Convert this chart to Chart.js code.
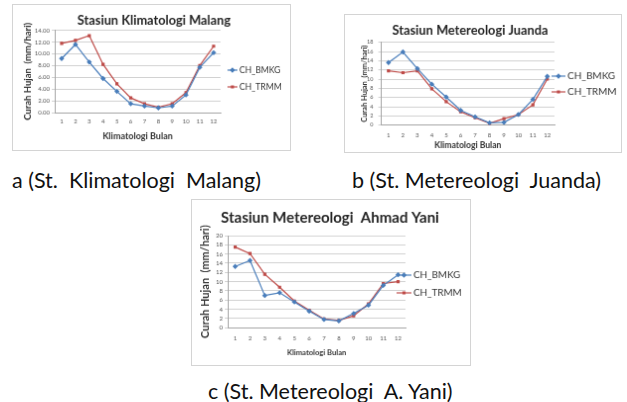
<!DOCTYPE html>
<html><head><meta charset="utf-8">
<script src="https://cdn.jsdelivr.net/npm/chart.js@4.4.0/dist/chart.umd.min.js"></script>
<style>
html,body{margin:0;padding:0;background:#fff;width:627px;height:402px;overflow:hidden;}
canvas{position:absolute;border:1px solid #d4d4d4;}
.cap{position:absolute;font-family:Lato,"Open Sans",sans-serif;font-size:21.5px;color:#111;white-space:pre;line-height:24px;}
</style></head><body>
<canvas id="ca" width="279" height="147" style="left:12px;top:4px;width:279px;height:147px"></canvas>
<canvas id="cb" width="278" height="139" style="left:344px;top:14px;width:278px;height:139px"></canvas>
<canvas id="cc" width="280" height="167" style="left:191px;top:199px;width:280px;height:167px"></canvas>
<div class="cap" style="left:12px;top:168px">a (St.  Klimatologi  Malang)</div>
<div class="cap" style="left:352px;top:168px">b (St. Metereologi  Juanda)</div>
<div class="cap" style="left:208px;top:379px">c (St. Metereologi  A. Yani)</div>
<script>
// ---- data ----
const months = ['1','2','3','4','5','6','7','8','9','10','11','12'];
const seriesNames = ['CH_BMKG','CH_TRMM'];
const malangBMKG = [9.2, 11.6, 8.6, 5.8, 3.6, 1.5, 1.1, 0.8, 1.1, 3.0, 7.7, 10.2];
const malangTRMM = [11.8, 12.3, 13.1, 8.2, 4.9, 2.5, 1.5, 0.9, 1.5, 3.4, 8.0, 11.3];
const juandaBMKG = [13.6, 15.9, 12.3, 8.9, 6.1, 3.2, 1.8, 0.5, 0.6, 2.3, 5.6, 10.6];
const juandaTRMM = [11.8, 11.4, 11.8, 7.9, 5.1, 2.9, 1.6, 0.4, 1.4, 2.3, 4.4, 10.0];
const yaniBMKG = [13.3, 14.6, 7.0, 7.6, 5.6, 3.6, 1.8, 1.5, 3.1, 4.9, 9.2, 11.5];
const yaniTRMM = [17.5, 16.1, 11.6, 8.8, 5.8, 3.8, 1.9, 1.6, 2.6, 5.2, 9.6, 10.0];
const titles = ['Stasiun Klimatologi Malang','Stasiun Metereologi Juanda','Stasiun Metereologi  Ahmad Yani'];
const xTitle = 'Klimatologi Bulan';
const yTitle = 'Curah Hujan  (mm/hari)';
const yMax = [14, 18, 20];
const yStep = 2;

// ---- style ----
const BLUE = '#4a7ebb', RED = '#be4b48', GRID = '#d2d2d2', AXIS = '#a6a6a6', TXT = '#555';
Chart.defaults.font.family = 'Lato, "Open Sans", sans-serif';

const frameText = {
  id: 'frameText',
  afterDraw(chart, args, o) {
    const ctx = chart.ctx;
    ctx.save();
    ctx.fillStyle = '#262626';
    ctx.font = 'bold ' + o.titleSize + 'px Lato, sans-serif';
    ctx.textAlign = 'center'; ctx.textBaseline = 'middle';
    ctx.fillText(o.title, o.titleX, o.titleY);
    chart.data.datasets.forEach((ds, i) => {
      const y = o.legY[i];
      ctx.strokeStyle = ds.borderColor; ctx.lineWidth = 1.2;
      ctx.beginPath(); ctx.moveTo(o.legX0, y); ctx.lineTo(o.legX1, y); ctx.stroke();
      Chart.helpers.drawPoint(ctx, {pointStyle: ds.pointStyle, radius: ds.pointRadius, rotation: 0, borderWidth: 1}, (o.legX0 + o.legX1) / 2, y);
      ctx.fillStyle = ds.borderColor; ctx.fill();
      ctx.fillStyle = '#333';
      ctx.font = o.legSize + 'px Lato, sans-serif';
      ctx.textAlign = 'left';
      ctx.fillText(ds.label, o.legX1 + 2, y);
    });
    ctx.restore();
  }
};

function makeChart(id, bmkg, trmm, max, L, fmt) {
  new Chart(document.getElementById(id), {
    type: 'line',
    data: {
      labels: months,
      datasets: [
        {label: seriesNames[0], data: bmkg, borderColor: BLUE, backgroundColor: BLUE, pointStyle: 'rectRot', pointRadius: 1.8, borderWidth: 1.2, tension: 0},
        {label: seriesNames[1], data: trmm, borderColor: RED, backgroundColor: RED, pointStyle: 'rect', pointRadius: 1.4, borderWidth: 1.2, tension: 0}
      ]
    },
    options: {
      responsive: false, animation: false, devicePixelRatio: 1,
      layout: {padding: L.pad},
      plugins: {legend: {display: false}, tooltip: {enabled: false}, title: {display: false}, frameText: L.text},
      scales: {
        x: {
          type: 'category', offset: true,
          grid: {display: false, drawTicks: false},
          border: {display: true, color: AXIS, width: 1},
          ticks: {font: {size: L.xtk}, color: TXT, padding: L.xPad, maxRotation: 0, autoSkip: false},
          title: {display: true, text: xTitle, font: {size: L.xtSize, weight: 'bold'}, color: '#333', padding: 0},
          afterFit(s) { s.height = L.xH; }
        },
        y: {
          min: 0, max: max,
          ticks: {stepSize: yStep, autoSkip: false, font: {size: L.ytk}, color: TXT, padding: L.yPad, callback: fmt},
          grid: {color: GRID, tickLength: 3, lineWidth: 1},
          border: {display: true, color: AXIS, width: 1},
          title: {display: true, text: yTitle, font: {size: L.ytSize, weight: 'bold'}, color: '#333', padding: 0},
          afterFit(s) { s.width = L.yW; }
        }
      }
    },
    plugins: [frameText]
  });
}

makeChart('ca', malangBMKG, malangTRMM, yMax[0], {
  pad: {left: 9, right: 70, top: 25.7, bottom: 8.5}, yW: 33, xH: 29.5, xPad: 5.5, yPad: 2, xtSize: 9, ytSize: 9.5, xtk: 6, ytk: 6,
  text: {title: titles[0], titleSize: 12.8, titleX: 142, titleY: 16, legX0: 216, legX1: 226, legY: [66, 83], legSize: 8.6}
}, v => v.toFixed(2));

makeChart('cb', juandaBMKG, juandaTRMM, yMax[1], {
  pad: {left: 15.5, right: 67, top: 27.7, bottom: 1.5}, yW: 21, xH: 25.8, xPad: 7, yPad: 5, xtSize: 8.6, ytSize: 7.5, xtk: 6, ytk: 5.5,
  text: {title: titles[1], titleSize: 12.8, titleX: 126, titleY: 16, legX0: 208, legX1: 222, legY: [62, 78], legSize: 10}
}, v => String(v));

makeChart('cc', yaniBMKG, yaniTRMM, yMax[2], {
  pad: {left: 6.5, right: 65, top: 36, bottom: 7.5}, yW: 29.5, xH: 30.2, xPad: 7.2, yPad: 2, xtSize: 7.6, ytSize: 11, xtk: 6, ytk: 6,
  text: {title: titles[2], titleSize: 15, titleX: 139, titleY: 18, legX0: 206, legX1: 221, legY: [76, 94], legSize: 9.8}
}, v => String(v));
</script>
</body></html>
